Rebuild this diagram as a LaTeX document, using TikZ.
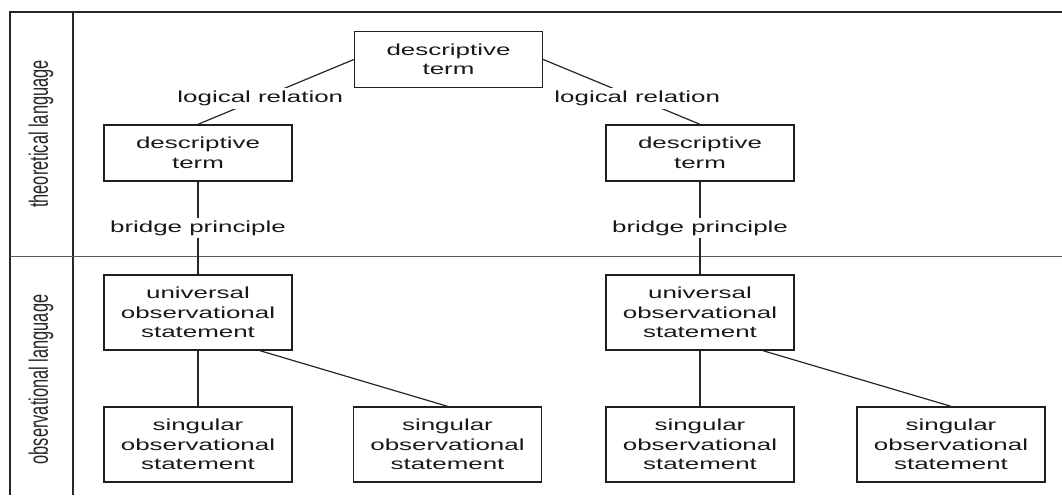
\documentclass[tikz,border=0pt]{standalone}
\usepackage{fontspec}
\setmainfont{Liberation Sans}[FakeStretch=1.62]
\newfontfamily\rotfont{Liberation Sans}[FakeStretch=0.617]
\begin{document}
\begin{tikzpicture}[x=1pt,y=-1pt,
  every node/.style={font=\fontsize{16}{19.5}\selectfont, text=black!90},
  term/.style={draw=black!88, line width=1.4pt, minimum width=188pt, minimum height=56pt, align=center, inner sep=0pt},
  stmt/.style={term, minimum height=75pt},
  conn/.style={draw=black!85, line width=1.2pt},
  lab/.style={fill=white, inner xsep=2pt, inner ysep=3pt},
  frame/.style={draw=black!85, line width=1.3pt},
  side/.style={rotate=90, font=\rotfont\fontsize{26.6}{30}\selectfont, text=black!85}
]
\useasboundingbox (0,0) rectangle (1062,495);
% frame
\coordinate (tl) at (10,12);
\coordinate (tr) at (1062,12);
\coordinate (il) at (73,12);
\coordinate (bl) at (10,495);
\coordinate (ib) at (73,495);
\coordinate (dl) at (10,256.5);
\coordinate (dr) at (1062,256.5);
\draw[frame] (bl) -- (tl) -- (tr);
\draw[frame] (il) -- (ib);
\draw[draw=black!65, line width=1.3pt] (dl) -- (dr);
\node[side] (tlang) at (41,134) {theoretical language};
\node[side] (olang) at (41,379.5) {observational language};
% boxes
\node[term] (top) at (448.5,59.5) {descriptive\\term};
\node[term] (l1) at (198,153) {descriptive\\term};
\node[term] (r1) at (700,153) {descriptive\\term};
\node[stmt] (u1) at (198,312.5) {universal\\observational\\statement};
\node[stmt] (u2) at (700,312.5) {universal\\observational\\statement};
\node[stmt] (s1) at (198,444.5) {singular\\observational\\statement};
\node[stmt] (s2) at (447.5,444.5) {singular\\observational\\statement};
\node[stmt] (s3) at (700,444.5) {singular\\observational\\statement};
\node[stmt] (s4) at (951,444.5) {singular\\observational\\statement};
% connectors
\draw[conn] (top.west) -- node[lab, pos=0.6] {logical relation} (l1.north);
\draw[conn] (top.east) -- node[lab, pos=0.6] {logical relation} (r1.north);
\draw[conn] (l1.south) -- node[lab, pos=0.5] {bridge principle} (u1.north);
\draw[conn] (r1.south) -- node[lab, pos=0.5] {bridge principle} (u2.north);
\draw[conn] (u1.south) -- (s1.north);
\draw[conn] ([xshift=62pt]u1.south) -- (s2.north);
\draw[conn] (u2.south) -- (s3.north);
\draw[conn] ([xshift=63pt]u2.south) -- (s4.north);
\end{tikzpicture}
\end{document}
